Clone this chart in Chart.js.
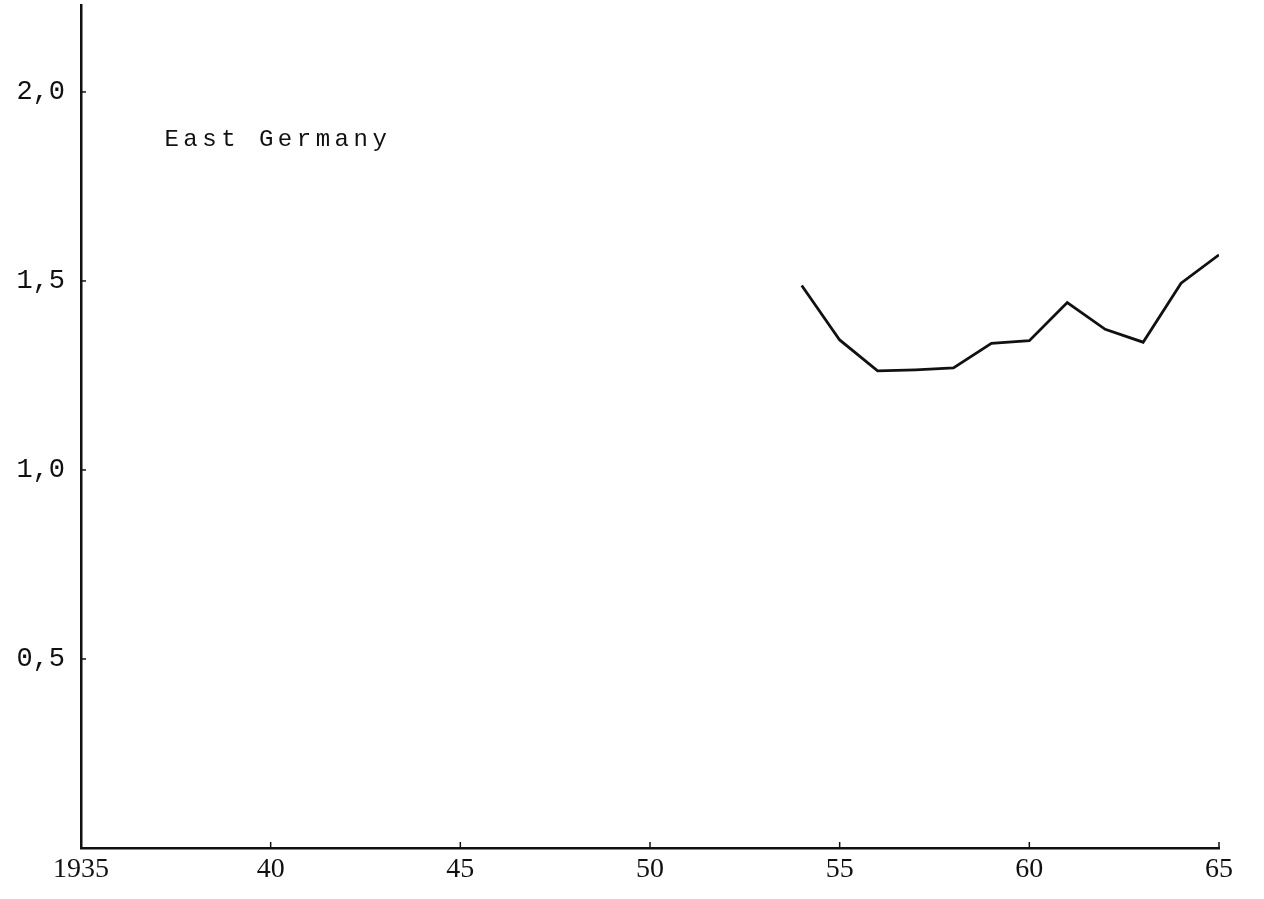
<!DOCTYPE html>
<html>
<head>
<meta charset="utf-8">
<script src="https://cdn.jsdelivr.net/npm/chart.js@4/dist/chart.umd.min.js"></script>
<style>
html,body{margin:0;padding:0;background:#fff;}
#wrap{width:1264px;height:899px;position:relative;}
</style>
</head>
<body>
<div id="wrap"><canvas id="c" width="1264" height="899"></canvas></div>
<script>
const years = [1954,1955,1956,1957,1958,1959,1960,1961,1962,1963,1964,1965];
const values = [1.488,1.344,1.262,1.265,1.270,1.335,1.342,1.443,1.372,1.338,1.494,1.569];
const xTickValues = [1935,1940,1945,1950,1955,1960,1965];
const xTickLabels = ['1935','40','45','50','55','60','65'];
const yTickValues = [0.5,1.0,1.5,2.0];
const yTickLabels = ['0,5','1,0','1,5','2,0'];
const seriesLabel = 'East Germany';

const innerTicks = {
  id:'innerTicks',
  afterDatasetsDraw(chart){
    const {ctx, chartArea:a, scales:{x,y}} = chart;
    ctx.save();
    ctx.strokeStyle='#111';
    ctx.lineWidth=1.5;
    xTickValues.forEach(v=>{
      const px=x.getPixelForValue(v);
      ctx.beginPath();ctx.moveTo(px,a.bottom);ctx.lineTo(px,a.bottom-6);ctx.stroke();
    });
    yTickValues.forEach(v=>{
      const py=y.getPixelForValue(v);
      ctx.beginPath();ctx.moveTo(a.left,py);ctx.lineTo(a.left+5,py);ctx.stroke();
    });
    ctx.restore();
  }
};

const textLabel = {
  id:'textLabel',
  afterDatasetsDraw(chart, args, opts){
    const {ctx, scales:{x,y}} = chart;
    ctx.save();
    ctx.fillStyle='#111';
    ctx.font='24px "Liberation Mono", monospace';
    ctx.letterSpacing='4.5px';
    ctx.textBaseline='middle';
    ctx.textAlign='left';
    ctx.fillText(opts.text, x.getPixelForValue(opts.x), y.getPixelForValue(opts.y));
    ctx.restore();
  }
};

new Chart(document.getElementById('c'), {
  type:'line',
  data:{
    datasets:[{
      label:seriesLabel,
      data:years.map((yr,i)=>({x:yr,y:values[i]})),
      borderColor:'#111',
      borderWidth:2.8,
      pointRadius:0,
      tension:0,
      fill:false
    }]
  },
  options:{
    responsive:false,
    animation:false,
    layout:{padding:{left:0,right:45,top:5,bottom:0}},
    plugins:{
      legend:{display:false},
      tooltip:{enabled:false},
      textLabel:{text:seriesLabel, x:1937.2, y:1.873}
    },
    scales:{
      x:{
        type:'linear',
        min:1935,max:1965,
        afterBuildTicks(s){ s.ticks = xTickValues.map(v=>({value:v})); },
        afterFit(s){ s.height = 51; s.paddingLeft = 0; s.paddingRight = 0; },
        grid:{display:false, drawTicks:false},
        border:{display:true,color:'#111',width:2.5},
        ticks:{
          padding:5,
          color:'#111',
          maxRotation:0,
          font:{family:'"Liberation Serif", serif', size:28},
          callback:(v)=>{const i=xTickValues.indexOf(v);return i>=0?xTickLabels[i]:'';}
        }
      },
      y:{
        type:'linear',
        min:0,max:2.23,
        afterBuildTicks(s){ s.ticks = yTickValues.map(v=>({value:v})); },
        afterFit(s){ s.width = 81; s.paddingTop = 0; s.paddingBottom = 0; },
        grid:{display:false, drawTicks:false},
        border:{display:true,color:'#111',width:2.5},
        ticks:{
          padding:16,
          color:'#111',
          font:{family:'"Liberation Mono", monospace', size:27},
          callback:(v)=>{const i=yTickValues.indexOf(v);return i>=0?yTickLabels[i]:'';}
        }
      }
    }
  },
  plugins:[innerTicks,textLabel]
});
</script>
</body>
</html>
